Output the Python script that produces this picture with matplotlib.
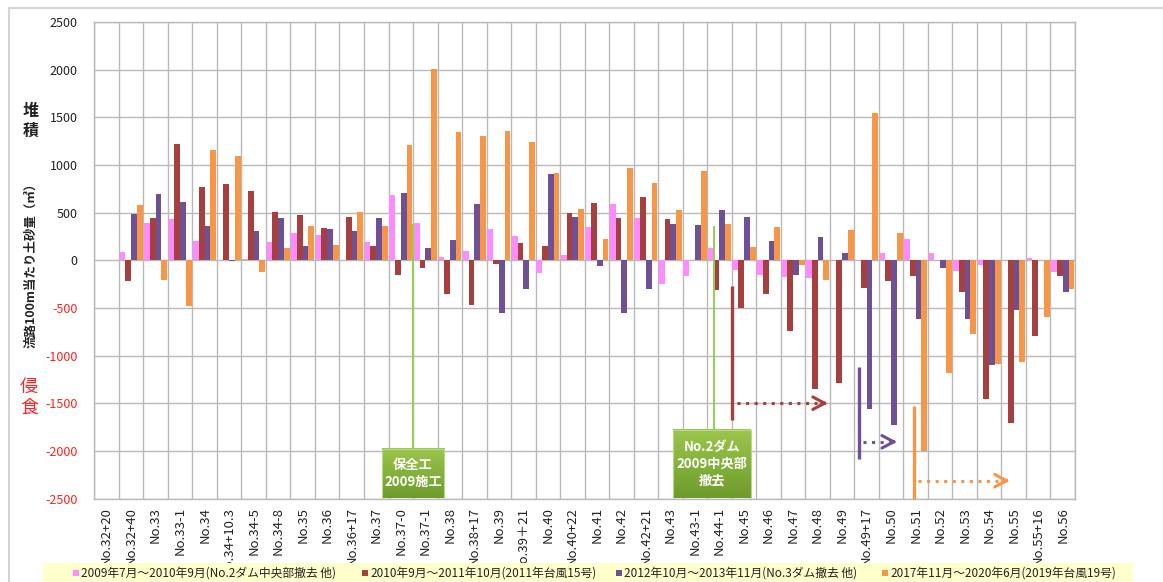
import numpy as np
import matplotlib
matplotlib.use("Agg")
import matplotlib.pyplot as plt
from matplotlib.patches import Rectangle
from matplotlib.lines import Line2D
from matplotlib.transforms import Bbox, TransformedBbox

plt.rcParams['font.family'] = ['Noto Sans CJK JP', 'DejaVu Sans']

# ---- data -------------------------------------------------------------
stations = [
    "No.32+20", "No.32+40", "No.33", "No.33-1", "No.34", "No.34+10.3", "No.34-5",
    "No.34-8", "No.35", "No.36", "No.36+17", "No.37", "No.37-0", "No.37-1",
    "No.38", "No.38+17", "No.39", "No.39＋21", "No.40", "No.40+22", "No.41",
    "No.42", "No.42+21", "No.43", "No.43-1", "No.44-1", "No.45", "No.46",
    "No.47", "No.48", "No.49", "No.49+17", "No.50", "No.51", "No.52", "No.53",
    "No.54", "No.55", "No.55+16", "No.56",
]

nan = np.nan
p2009_2010 = [nan, 91, 392, 437, 200, 0, 14, 196, 283, 262,
              0, 192, 686, 392, 38, 98, 332, 259, -133, 56,
              346, 595, 444, -248, -168, 133, -105, -157, -180, -187,
              0, 0, 80, 227, 73, -112, -45, 0, 21, -122]
p2010_2011 = [nan, -213, 444, 1217, 773, 805, 727, 504, 472, 343,
              458, 147, -154, -84, -350, -469, -38, 182, 154, 497,
              605, 444, 668, 437, 0, -308, -504, -357, -738, -1351,
              -1291, -290, -213, -168, 0, -336, -1456, -1708, -791, -168]
p2012_2013 = [nan, 490, 700, 616, 357, -10, 311, 441, 154, 332,
              304, 441, 707, 126, 213, 595, -553, -304, 906, 451,
              -63, -550, -304, 385, 371, 528, 458, 203, -160, 241,
              77, -1557, -1732, -616, -80, -612, -1102, -525, 0, -329]
p2017_2020 = [nan, 580, -210, -483, 1161, 1098, -119, 129, 357, 164,
              504, 357, 1207, 2002, 1344, 1309, 1358, 1239, 920, 539,
              225, 969, 812, 528, 934, 378, 140, 346, -52, -203,
              315, 1547, 283, -2002, -1186, -773, -1088, -1067, -595, -301]

series_labels = [
    "2009年7月～2010年9月(No.2ダム中央部撤去 他)",
    "2010年9月～2011年10月(2011年台風15号)",
    "2012年10月～2013年11月(No.3ダム撤去 他)",
    "2017年11月～2020年6月(2019年台風19号)",
]
series_values = [p2009_2010, p2010_2011, p2012_2013, p2017_2020]
colors = ["#FF8CFF", "#A5403F", "#6E5095", "#F79646"]

y_ticks = list(range(-2500, 2501, 500))

# ---- figure -----------------------------------------------------------
W, H = 1163, 582
fig = plt.figure(figsize=(W / 100, H / 100), dpi=100)
fig.patch.set_facecolor("white")


def fx(px):
    return px / W


def fy(py):
    return 1 - py / H


ax = fig.add_axes([fx(94.3), fy(498.5), fx(1075) - fx(94.3), fy(22) - fy(498.5)])

n = len(stations)
x = np.arange(n)
bw = 0.235
for i, (vals, c) in enumerate(zip(series_values, colors)):
    ax.bar(x + (i - 1.5) * bw, np.array(vals, dtype=float), width=bw,
           color=c, linewidth=0, zorder=3)

ax.set_xlim(-0.5, n - 0.5)
ax.set_ylim(-2500, 2500)

grid_c = "#B9B9B9"
ax.set_xticks(x)
ax.set_xticks(np.arange(n + 1) - 0.5, minor=True)
ax.set_xticklabels(stations, rotation=90, fontsize=9.5, color="#222222",
                   va="top", ha="center")
ax.tick_params(axis="x", which="both", length=0, pad=6)
# station names run under the legend band and are cut off there
label_clip = TransformedBbox(Bbox.from_extents(0, fy(563), 1, 1), fig.transFigure)
for lab in ax.get_xticklabels():
    lab.set_clip_box(label_clip)
    lab.set_clip_on(True)

ax.set_yticks(y_ticks)
ax.set_yticklabels([str(v) for v in y_ticks], fontsize=9)
for lab, v in zip(ax.get_yticklabels(), y_ticks):
    lab.set_color("#FF2020" if v < 0 else "#222222")
ax.tick_params(axis="y", length=0, pad=12)

ax.grid(axis="x", which="minor", color=grid_c, lw=1, zorder=1)
ax.grid(axis="y", which="major", color=grid_c, lw=1, zorder=1)
ax.grid(axis="x", which="major", visible=False)
for s in ax.spines.values():
    s.set_color(grid_c)
    s.set_linewidth(1)
ax.set_axisbelow(True)

# ---- construction markers ---------------------------------------------
green = "#92D050"
ax.plot([12.5, 12.5], [372, -1976], color=green, lw=1.4, zorder=4)
ax.plot([24.77, 24.77], [350, -1777], color=green, lw=1.4, zorder=4)

grad = np.linspace(0, 1, 64).reshape(-1, 1)
cmap = matplotlib.colors.LinearSegmentedColormap.from_list(
    "box", ["#9CC64C", "#6E9B2C"])
boxes = [
    (11.22, 13.77, -2500, -1976, "保全工\n2009施工"),
    (23.10, 26.28, -2500, -1777, "No.2ダム\n2009中央部\n撤去"),
]
for x0, x1, y0, y1, txt in boxes:
    ax.imshow(grad, extent=[x0, x1, y0, y1], aspect="auto", cmap=cmap,
              origin="upper", zorder=5)
    ax.add_patch(Rectangle((x0, y0), x1 - x0, y1 - y0, fill=False,
                           edgecolor="#B5D98A", lw=0.8, zorder=5))
    ax.text((x0 + x1) / 2, (y0 + y1) / 2, txt, color="white", fontsize=9.5,
            fontweight="bold", ha="center", va="center", linespacing=1.25,
            zorder=6)

# ---- erosion-front arrows ---------------------------------------------
fronts = [
    (25.49, -266, -1673, 25.70, 29.42, -1500, colors[1]),
    (30.70, -1124, -2086, 30.86, 32.24, -1905, colors[2]),
    (32.93, -1533, -2500, 33.09, 36.84, -2313, colors[3]),
]
for xv, ya, yb, xs, xe, ya_arrow, c in fronts:
    ax.plot([xv, xv], [ya, yb], color=c, lw=2.4, zorder=6,
            solid_capstyle="butt", clip_on=False)
    ax.plot([xs, xe - 0.15], [ya_arrow, ya_arrow], color=c, lw=2.2,
            linestyle=(0, (1.0, 1.8)), zorder=6)
    ax.annotate("", xy=(xe, ya_arrow), xytext=(xe - 0.25, ya_arrow),
                arrowprops=dict(arrowstyle="->,head_length=0.85,head_width=0.45",
                                color=c, lw=2.2, shrinkA=0, shrinkB=0),
                zorder=6)

ax.set_xlim(-0.5, n - 0.5)
ax.set_ylim(-2500, 2500)

# ---- axis titles ------------------------------------------------------
fig.text(fx(31), fy(121), "堆\n積", fontsize=11.5, fontweight="bold",
         color="#222222", ha="center", va="center", linespacing=1.25)
fig.text(fx(29), fy(397), "侵\n食", fontsize=13, color="#FF2020",
         ha="center", va="center", linespacing=1.2)
fig.text(fx(31), fy(262), "流路100m当たり土砂量（㎥）", fontsize=9,
         fontweight="bold", color="#222222", rotation=90,
         ha="center", va="center")

# ---- outer frame ------------------------------------------------------
fig.add_artist(Line2D([fx(9), fx(1163)], [fy(8), fy(8)], color="#D4D4D4",
                      lw=1.5, transform=fig.transFigure))
fig.add_artist(Line2D([fx(9), fx(9)], [fy(8), fy(582)], color="#D4D4D4",
                      lw=1.5, transform=fig.transFigure))

# ---- legend band ------------------------------------------------------
fig.add_artist(Rectangle((fx(43), fy(582)), fx(1133) - fx(43), fy(563) - fy(582),
                         transform=fig.transFigure, facecolor="#FFFFCC",
                         edgecolor="none", zorder=10))
legend_x = [73, 362, 616, 882]
for lx, lab, c in zip(legend_x, series_labels, colors):
    fig.add_artist(Rectangle((fx(lx), fy(576)), fx(6), fy(570) - fy(576),
                             transform=fig.transFigure, facecolor=c,
                             edgecolor="none", zorder=11))
    fig.text(fx(lx + 8), fy(573), lab, fontsize=8.5, color="#222222",
             ha="left", va="center", zorder=12)

fig.savefig("out.png", dpi=100)
